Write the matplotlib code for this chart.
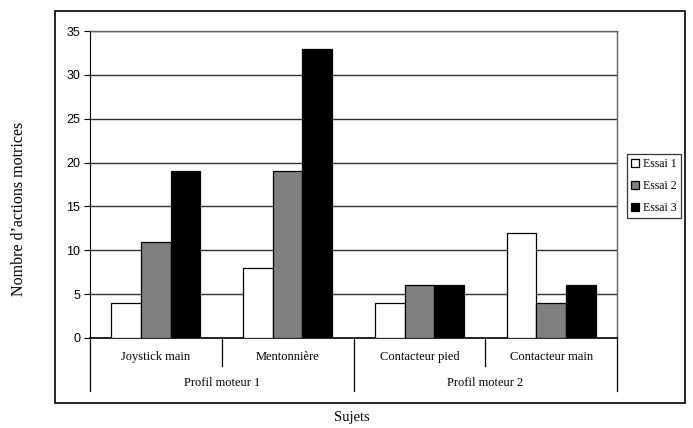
import matplotlib
matplotlib.use("Agg")
import matplotlib.pyplot as plt
import matplotlib.patches as mpatches
import numpy as np

categories = ["Joystick main", "Mentonnière", "Contacteur pied", "Contacteur main"]
groups = ["Profil moteur 1", "Profil moteur 2"]
series_names = ["Essai 1", "Essai 2", "Essai 3"]
essai1 = [4, 8, 4, 12]
essai2 = [11, 19, 6, 4]
essai3 = [19, 33, 6, 6]
yticks = [0, 5, 10, 15, 20, 25, 30, 35]

colors = ["white", "#808080", "black"]
W, H = 693, 428
fig = plt.figure(figsize=(W / 100, H / 100), dpi=100)
fig.patch.set_facecolor("white")

# outer frame
fig.add_artist(mpatches.Rectangle((55 / W, 1 - 403 / H), 630 / W, 392 / H,
                                  transform=fig.transFigure, fill=False,
                                  edgecolor="black", linewidth=1.2))

left, right, top, bottom = 90, 617, 31, 338
ax = fig.add_axes([left / W, 1 - bottom / H, (right - left) / W, (bottom - top) / H])
ax.set_xlim(0, 4)
ax.set_ylim(0, 35)

x = np.arange(len(categories)) + 0.5
bw = 0.225
for i, (vals, c, name) in enumerate(zip([essai1, essai2, essai3], colors, series_names)):
    ax.bar(x + (i - 1) * bw, vals, width=bw, color=c, edgecolor="black",
           linewidth=0.9, label=name, zorder=3)

ax.set_yticks(yticks)
ax.yaxis.grid(True, color="#303030", linewidth=1.0, zorder=0)
ax.set_axisbelow(True)
for lab in ax.get_yticklabels():
    lab.set_fontfamily("Liberation Sans")
ax.tick_params(axis="y", labelsize=9, length=4, width=0.8, direction="out", pad=3)
ax.set_xticks([])
for s in ["top", "right"]:
    ax.spines[s].set_color("#606060")
    ax.spines[s].set_linewidth(1.0)
ax.spines["left"].set_color("black")
ax.spines["bottom"].set_color("black")
ax.spines["bottom"].set_linewidth(1.2)

tr = ax.get_xaxis_transform()
ah = bottom - top
cat_sep = -(366 - bottom) / ah
grp_sep = -(391 - bottom) / ah
for xs in [1, 3]:
    ax.plot([xs, xs], [0, cat_sep], transform=tr, color="black", lw=0.9, clip_on=False)
for xs in [0, 2, 4]:
    ax.plot([xs, xs], [0, grp_sep], transform=tr, color="black", lw=0.9, clip_on=False)
cat_y = -(357 - bottom) / ah
grp_y = -(383 - bottom) / ah
for xi, c in zip(x, categories):
    ax.text(xi, cat_y, c, transform=tr, ha="center", va="center",
            fontfamily="Liberation Serif", fontsize=9)
for gi, g in enumerate(groups):
    ax.text(1 + 2 * gi, grp_y, g, transform=tr, ha="center", va="center",
            fontfamily="Liberation Serif", fontsize=9)

fig.text(352 / W, 1 - 418 / H, "Sujets", ha="center", va="center",
         fontfamily="Liberation Serif", fontsize=10.5)
fig.text(19 / W, 1 - 209 / H, "Nombre d\u2019actions motrices", ha="center", va="center",
         rotation=90, fontfamily="Liberation Serif", fontsize=11.5)

leg = fig.legend(loc="upper left", bbox_to_anchor=(627 / W, 1 - 154 / H),
                 bbox_transform=fig.transFigure, frameon=True, fancybox=False,
                 prop={"family": "Liberation Serif", "size": 8.5},
                 handlelength=0.7, handleheight=0.7, handletextpad=0.3,
                 borderpad=0.35, labelspacing=0.85, borderaxespad=0)
leg.get_frame().set_edgecolor("black")
leg.get_frame().set_linewidth(0.9)

fig.savefig("out.png", dpi=100, facecolor="white")
